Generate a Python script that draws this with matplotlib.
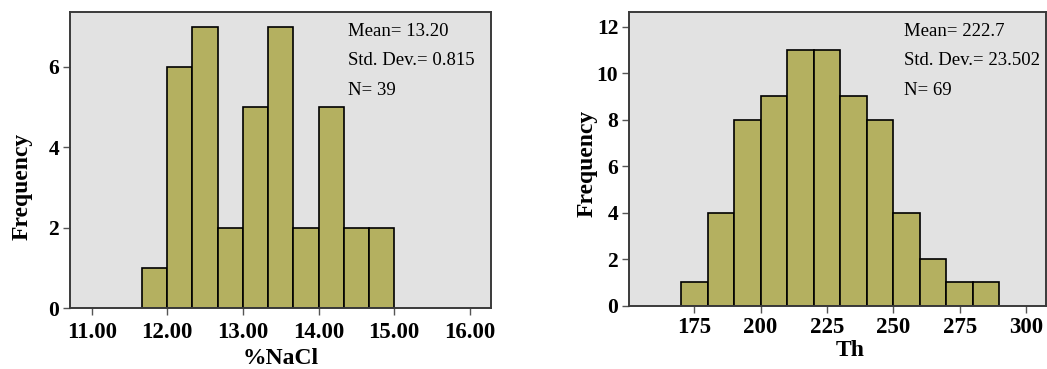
import numpy as np
import matplotlib
matplotlib.use("Agg")
import matplotlib.pyplot as plt

# histogram data
nacl_edges = [11.667, 12.000, 12.333, 12.667, 13.000, 13.333,
              13.667, 14.000, 14.333, 14.667, 15.000]
nacl_counts = [1, 6, 7, 2, 5, 7, 2, 5, 2, 2]
nacl_ticks = [11, 12, 13, 14, 15, 16]
nacl_stats = ["Mean= 13.20", "Std. Dev.= 0.815", "N= 39"]

th_edges = [170, 180, 190, 200, 210, 220, 230, 240, 250, 260, 270, 280, 290]
th_counts = [1, 4, 8, 9, 11, 11, 9, 8, 4, 2, 1, 1]
th_ticks = [175, 200, 225, 250, 275, 300]
th_stats = ["Mean= 222.7", "Std. Dev.= 23.502", "N= 69"]

plt.rcParams["font.family"] = ["Liberation Serif", "DejaVu Serif"]

BAR = "#b4b060"
BG = "#e2e2e2"
SPINE = "#3a3a3a"


def draw_hist(ax, edges, counts, xticks, xfmt, xlim, ylim, yticks, stats,
              xlabel, xlab_pos, ylab_pos, xpad):
    edges = np.asarray(edges)
    ax.set_facecolor(BG)
    ax.bar(edges[:-1], counts, width=np.diff(edges), align="edge",
           color=BAR, edgecolor="black", linewidth=1.2, zorder=2)
    ax.set_xlim(*xlim)
    ax.set_ylim(*ylim)
    ax.set_xticks(xticks)
    ax.set_xticklabels([xfmt.format(t) for t in xticks])
    ax.set_yticks(yticks)
    for s in ax.spines.values():
        s.set_color(SPINE)
        s.set_linewidth(1.4)
    ax.tick_params(axis="both", direction="out", length=5, width=1.0, color="#555555")
    ax.tick_params(axis="x", labelsize=16.5, pad=xpad)
    ax.tick_params(axis="y", labelsize=15.5, pad=3)
    for lab in ax.get_xticklabels() + ax.get_yticklabels():
        lab.set_fontweight("bold")
    xl = ax.set_xlabel(xlabel, fontsize=17, fontweight="bold")
    yl = ax.set_ylabel("Frequency", fontsize=17, fontweight="bold")
    ax.xaxis.set_label_coords(*xlab_pos)
    ax.yaxis.set_label_coords(*ylab_pos)
    xl.set_va("center")
    yl.set_va("center")
    for i, txt in enumerate(stats):
        ax.text(0.66, 0.935 - i * 0.1, txt, transform=ax.transAxes,
                fontsize=13.5, va="center", ha="left", zorder=3)


fig = plt.figure(figsize=(10.47, 3.69), dpi=100)
ax1 = fig.add_axes([0.0669, 0.1653, 0.402, 0.802])
ax2 = fig.add_axes([0.601, 0.1715, 0.3977, 0.7952])

draw_hist(ax1, nacl_edges, nacl_counts, nacl_ticks, "{:.2f}",
          (10.714, 16.28), (0, 7.36), [0, 2, 4, 6], nacl_stats, "%NaCl",
          (0.5, -0.169), (-0.115, 0.41), 5)
draw_hist(ax2, th_edges, th_counts, th_ticks, "{:d}",
          (150.5, 307.4), (0, 12.62), [0, 2, 4, 6, 8, 10, 12], th_stats, "Th",
          (0.53, -0.151), (-0.102, 0.486), 3)

fig.savefig("out.png", dpi=100)
